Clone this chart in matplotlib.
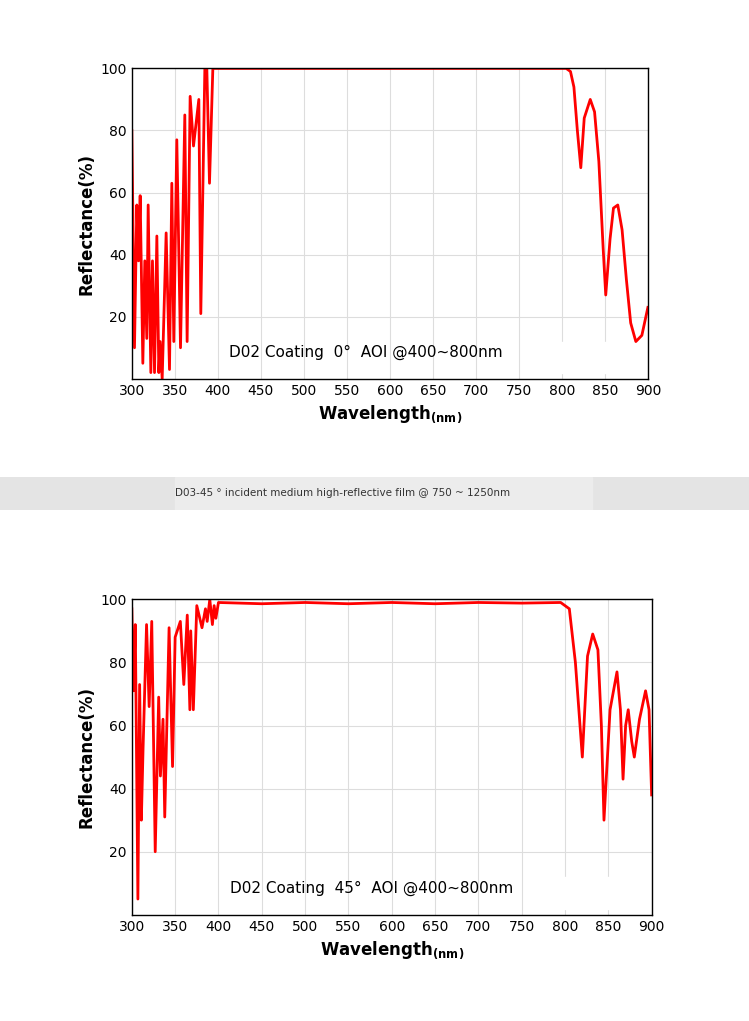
import matplotlib.pyplot as plt

# 0 deg AOI curve
wl0 = [300, 303.1, 305.8, 307.8, 309.7, 312.8, 315.1, 317.4, 319, 322.1, 324, 326.4, 329.1,
       331.4, 332.9, 335.3, 339.9, 343.8, 346.5, 348.8, 352.3, 356.6, 361.6, 364.3, 367.8,
       371.7, 377.9, 380.2, 384.9, 387.2, 390.3, 394.2, 400, 600, 805, 810, 814, 818, 822,
       826, 833, 838, 843, 848, 851, 856, 860, 865, 870, 875, 880, 886, 893, 900]
r0 = [80, 10, 56, 38, 59, 5, 38, 13, 56, 2, 38, 2, 46,
      2, 12, 0, 47, 3, 63, 12, 77, 10, 85, 12, 91,
      75, 90, 21, 100, 100, 63, 100, 100, 100, 100, 99, 94, 80, 68,
      84, 90, 86, 70, 42, 27, 45, 55, 56, 48, 32, 18, 12, 14, 23]

# 45 deg AOI curve
wl45 = [300, 302, 304, 307, 309, 311, 313, 317, 320, 323, 327, 331, 333, 336, 338, 343,
        347, 350, 356, 360, 364, 367, 368, 371, 375, 381, 385, 387, 390, 393, 395, 397,
        400, 450, 500, 550, 600, 650, 700, 750, 795, 805, 812, 820, 826, 832, 838, 842,
        845, 852, 860, 864, 867, 870, 873, 877, 880, 886, 893, 897, 900]
r45 = [97, 71, 92, 5, 73, 30, 53, 92, 66, 93, 20, 69, 44, 62, 31, 91,
       47, 88, 93, 73, 95, 65, 90, 65, 98, 91, 97, 93, 100, 92, 98, 94,
       99, 98.6, 99, 98.6, 99, 98.6, 99, 98.8, 99, 97, 80, 50, 82, 89, 84, 60,
       30, 65, 77, 65, 43, 60, 65, 55, 50, 62, 71, 65, 38]

xticks = list(range(300, 901, 50))
yticks = [20, 40, 60, 80, 100]

fig = plt.figure(figsize=(7.49, 10.21), dpi=100)


def panel(rect, wl, r, label, boxx):
    ax = fig.add_axes(rect)
    ax.plot(wl, r, color='#ff0000', lw=2)
    ax.set_xlim(300, 900)
    ax.set_ylim(0, 100)
    ax.set_xticks(xticks)
    ax.set_yticks(yticks)
    ax.tick_params(length=0, labelsize=10)
    ax.grid(True, color='#dddddd', lw=0.8)
    ax.set_axisbelow(True)
    ax.set_ylabel('Reflectance(%)', fontsize=12, fontweight='bold')
    ax.set_xlabel('Wavelength$\\mathbf{_{(nm)}}$', fontsize=12, fontweight='bold')
    ax.text(413, 7, label, fontsize=11)
    ax.axvspan(boxx, boxx + 110, 0.02, 0.12, color='white', zorder=1)
    for s in ax.spines.values():
        s.set_linewidth(1)
    return ax


panel([0.176, 0.629, 0.689, 0.304], wl0, r0, 'D02 Coating  0°  AOI @400~800nm', 780)
panel([0.176, 0.104, 0.694, 0.309], wl45, r45, 'D02 Coating  45°  AOI @400~800nm', 770)

band = fig.add_axes([0, 1 - 510 / 1021, 1, 33 / 1021])
band.set_facecolor('#e4e4e4')
band.set_xticks([])
band.set_yticks([])
for s in band.spines.values():
    s.set_visible(False)
band.axvspan(175 / 749, 592 / 749, color='#ececec')
band.set_xlim(0, 1)
band.text(175 / 749, 0.5, 'D03-45 ° incident medium high-reflective film @ 750 ~ 1250nm',
          fontsize=7.5, va='center', color='#333333')

fig.savefig('out.png', dpi=100)
